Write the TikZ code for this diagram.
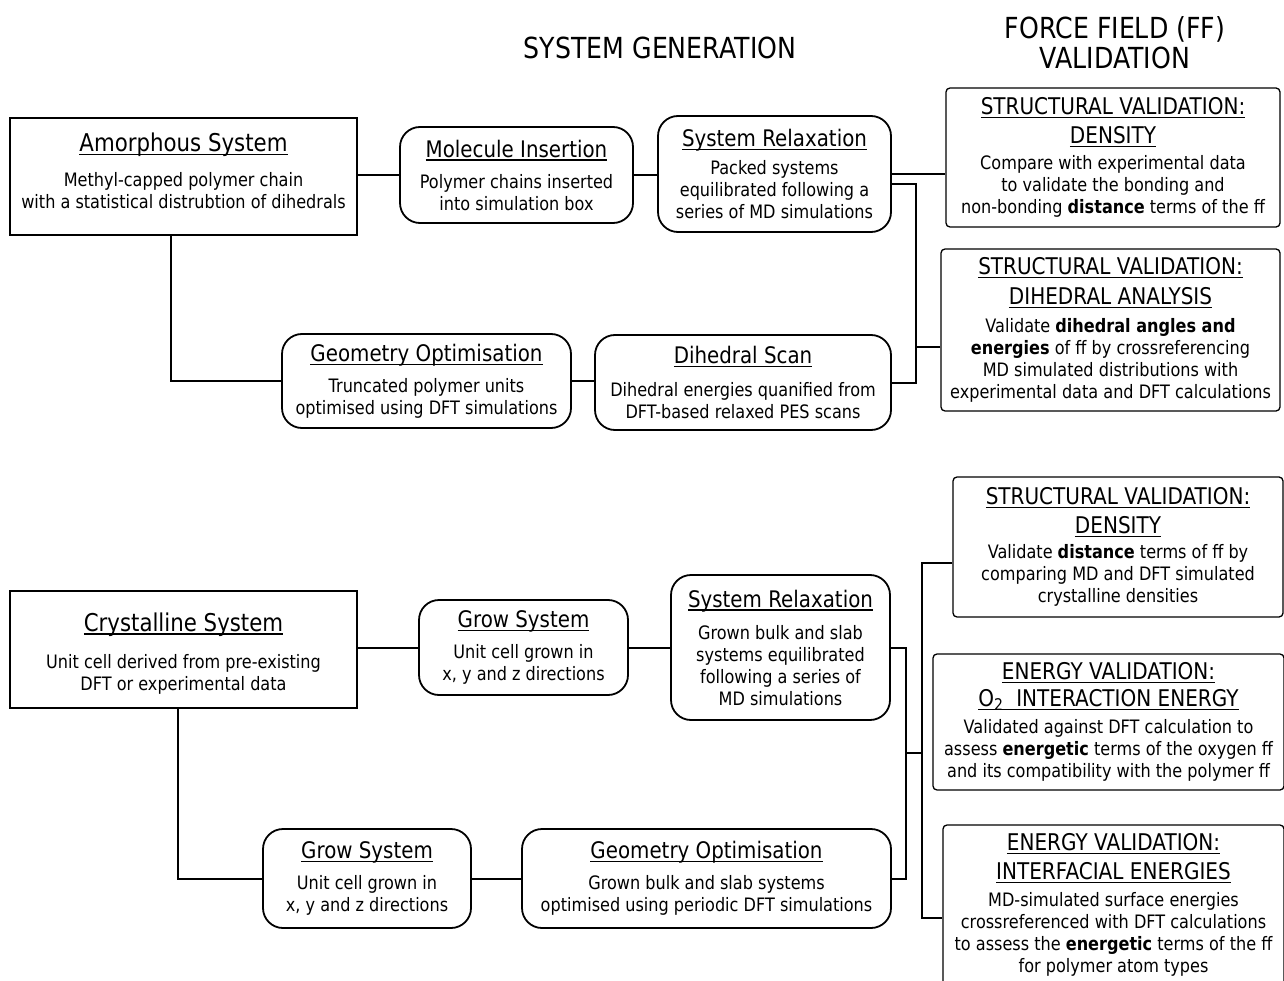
\documentclass[tikz,border=0pt]{standalone}
\usepackage{fontspec}
\setmainfont{DejaVu Sans}[FakeStretch=0.87]
\usetikzlibrary{positioning}

\newsavebox\ulnbox
\newcommand{\uln}[1]{\sbox\ulnbox{#1}\rlap{\usebox\ulnbox}\rule[-3.5pt]{\wd\ulnbox}{1.2pt}}
\newcommand{\systtl}[1]{{\fontsize{24.5}{28}\selectfont\uln{#1}}}
\newcommand{\stepttl}[1]{{\fontsize{22.8}{26}\selectfont\uln{#1}}}
\newcommand{\valttl}[1]{{\fontsize{23}{28}\selectfont\uln{#1}}}

\begin{document}
\begin{tikzpicture}[
    x=1pt, y=-1pt,
    every node/.style={font=\fontsize{18.5}{22}\selectfont, align=center, inner sep=0pt},
    sysbox/.style={draw, line width=2.2pt},
    stepbox/.style={draw, line width=1.8pt, rounded corners=20pt},
    valbox/.style={draw, line width=1.3pt, rounded corners=4pt},
    heading/.style={font=\fontsize{29}{30}\selectfont},
    link/.style={line width=2pt}
]
\useasboundingbox (0,0) rectangle (1284,981);

% Titles
\node[heading] (gen) at (660,48) {SYSTEM GENERATION};
\node[heading] (ffval) at (1115,43) {FORCE FIELD (FF)\\VALIDATION};

% Amorphous route
\node[sysbox, minimum width=347pt, minimum height=117pt] (amor) at (183.5,176.5) {\systtl{Amorphous System}\\[13pt]Methyl-capped polymer chain\\with a statistical distrubtion of dihedrals\rule[-11pt]{0pt}{1pt}};
\node[stepbox, minimum width=233pt, minimum height=96pt] (insert) at (516.5,175) {\stepttl{Molecule Insertion}\\[9pt]Polymer chains inserted\\into simulation box};
\node[stepbox, minimum width=233pt, minimum height=116pt] (relaxA) at (774.5,174) {\stepttl{System Relaxation}\\[6pt]Packed systems\\equilibrated following a\\series of MD simulations};
\node[stepbox, minimum width=289pt, minimum height=94pt] (geoA) at (426.5,381) {\stepttl{Geometry Optimisation}\\[9pt]Truncated polymer units\\optimised using DFT simulations};
\node[stepbox, minimum width=296pt, minimum height=95pt] (scan) at (743,382.5) {\stepttl{Dihedral Scan}\\[11pt]Dihedral energies quanified from\\DFT-based relaxed PES scans};

% Validation, amorphous
\node[valbox, minimum width=334pt, minimum height=139pt] (densA) at (1113,157.5) {\valttl{STRUCTURAL VALIDATION:}\\[7pt]\valttl{DENSITY}\\[4pt]Compare with experimental data\\to validate the bonding and\\non-bonding \textbf{distance} terms of the ff};
\node[valbox, minimum width=339pt, minimum height=162pt] (dihA) at (1110.5,330) {\valttl{STRUCTURAL VALIDATION:}\\[8pt]\valttl{DIHEDRAL ANALYSIS}\\[6pt]Validate \textbf{dihedral angles and}\\\textbf{energies} of ff by crossreferencing\\MD simulated distributions with\\experimental data and DFT calculations};

% Crystalline route
\node[sysbox, minimum width=347pt, minimum height=117pt] (cryst) at (183.5,649.5) {\rule{0pt}{26pt}\systtl{Crystalline System}\\[15pt]Unit cell derived from pre-existing\\DFT or experimental data};
\node[stepbox, minimum width=209pt, minimum height=95pt] (growA) at (523.5,647.5) {\stepttl{Grow System}\\[9pt]Unit cell grown in\\x, y and z directions};
\node[stepbox, minimum width=219pt, minimum height=145pt] (relaxB) at (780.5,647.5) {\stepttl{System Relaxation}\\[10pt]Grown bulk and slab\\systems equilibrated\\following a series of\\MD simulations};
\node[stepbox, minimum width=208pt, minimum height=99pt] (growB) at (367,878.5) {\stepttl{Grow System}\\[9pt]Unit cell grown in\\x, y and z directions};
\node[stepbox, minimum width=369pt, minimum height=99pt] (geoB) at (706.5,878.5) {\stepttl{Geometry Optimisation}\\[9pt]Grown bulk and slab systems\\optimised using periodic DFT simulations};

% Validation, crystalline
\node[valbox, minimum width=330pt, minimum height=140pt] (densB) at (1118,547) {\valttl{STRUCTURAL VALIDATION:}\\[7pt]\valttl{DENSITY}\\[3pt]Validate \textbf{distance} terms of ff by\\comparing MD and DFT simulated\\crystalline densities};
\node[valbox, minimum width=351pt, minimum height=136pt] (o2) at (1108.5,722) {\valttl{ENERGY VALIDATION:}\\[5pt]\valttl{O\textsubscript{2}\ \ INTERACTION ENERGY}\\[5pt]Validated against DFT calculation to\\assess \textbf{energetic} terms of the oxygen ff\\and its compatibility with the polymer ff};
\node[valbox, minimum width=341pt, minimum height=160pt] (interf) at (1113.5,905) {\valttl{ENERGY VALIDATION:}\\[7pt]\valttl{INTERFACIAL ENERGIES}\\[5pt]MD-simulated surface energies\\crossreferenced with DFT calculations\\to assess the \textbf{energetic} terms of the ff\\for polymer atom types};

% Connectors, amorphous
\draw[link] (insert.west -| amor.east) -- (insert.west);
\draw[link] (insert.east) -- (insert.east -| relaxA.west);
\draw[link] (relaxA.east) -- (relaxA.east -| densA.west);
\draw[link] ([xshift=-13pt]amor.south) |- (geoA.west);
\draw[link] (geoA.east) -- (geoA.east -| scan.west);
\draw[link] ([yshift=-10pt]relaxA.east) -- ++(24,0) coordinate (jA) |- (scan.east);
\draw[link] ([yshift=-17pt]dihA.west) -| (jA);

% Connectors, crystalline
\draw[link] (growA.west -| cryst.east) -- (growA.west);
\draw[link] (growA.east) -- (growA.east -| relaxB.west);
\draw[link] ([xshift=-5.5pt]cryst.south) |- (growB.west);
\draw[link] (growB.east) -- (growB.east -| geoB.west);
\draw[link] (relaxB.east) -- ++(15,0) coordinate (jB) |- (geoB.east);
\coordinate (jC) at (922,753);
\draw[link] (jB |- jC) -- (jC);
\draw[link] ([yshift=-16pt]densB.west) -| (jC) |- ([yshift=-13pt]interf.west);

\end{tikzpicture}
\end{document}
